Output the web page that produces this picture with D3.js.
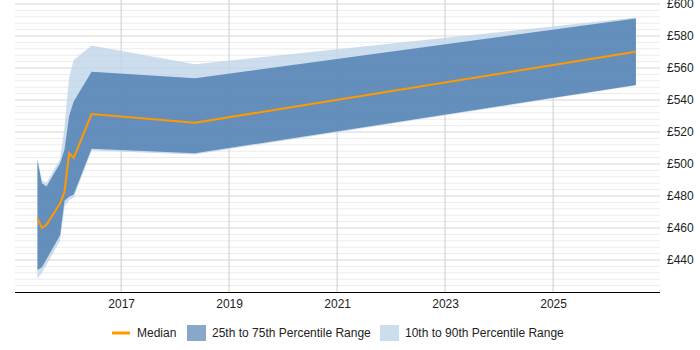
<!DOCTYPE html>
<html>
<head>
<meta charset="utf-8">
<script src="https://cdn.jsdelivr.net/npm/d3@7"></script>
<style>
  body { margin: 0; background: #fff; }
  svg { font-family: Arial, 'Liberation Sans', sans-serif; }
</style>
</head>
<body>
<svg width="700" height="350"></svg>
<script>
'use strict'

// monthly sample points (mid-month)
const months = ['2015-06', '2015-07', '2015-08', '2015-11', '2015-12', '2016-01', '2016-02', '2016-06', '2018-05', '2026-07']
const median = [466, 460, 462, 475.4, 482.7, 506.7, 503.8, 531.2, 525.8, 570.2]
const p25 = [433.7, 435.5, 440.5, 455.5, 477, 479.5, 481, 509.5, 506.7, 549.4]
const p75 = [502.5, 488, 486, 500.5, 509, 530, 539, 557.7, 553.6, 591]
const p10 = [428.5, 432, 437, 452, 473, 477.5, 479, 508.5, 506, 549]
const p90 = [503, 489.5, 488.5, 503, 523, 554, 565, 574, 562.3, 591.5]

const yearTicks = [2017, 2019, 2021, 2023, 2025]
const yTicks = [440, 460, 480, 500, 520, 540, 560, 580, 600]
const legendLabels = ['Median', '25th to 75th Percentile Range', '10th to 90th Percentile Range']

const svg = d3.select('svg')
const parseMonth = d3.timeParse('%Y-%m')
const midMonth = (m) => d3.timeDay.offset(parseMonth(m), 14)

const data = months.map((m, i) => ({
  date: midMonth(m),
  median: median[i],
  p25: p25[i],
  p75: p75[i],
  p10: p10[i],
  p90: p90[i]
}))

const plotLeft = 15
const plotRight = 660
const plotTop = 4
const plotBottom = 292

const x = d3.scaleTime()
  .domain([new Date(2015, 0, 14), new Date(2026, 11, 25)])
  .range([plotLeft, plotRight])
const y = d3.scaleLinear().domain([420, 600]).range([plotBottom, plotTop])

// grid
const grid = svg.append('g').classed('grid', true)
grid.selectAll('line.minor')
  .data(d3.range(424, 604, 4).filter((v) => v % 20 !== 0))
  .enter().append('line').classed('minor', true)
  .attr('x1', plotLeft).attr('x2', plotRight)
  .attr('y1', (d) => y(d)).attr('y2', (d) => y(d))
  .style('stroke', '#ebebeb')
grid.selectAll('line.major')
  .data(yTicks)
  .enter().append('line').classed('major', true)
  .attr('x1', plotLeft).attr('x2', plotRight)
  .attr('y1', (d) => y(d)).attr('y2', (d) => y(d))
  .style('stroke', '#d6d6d6')
grid.selectAll('line.vert')
  .data(yearTicks)
  .enter().append('line').classed('vert', true)
  .attr('x1', (d) => x(new Date(d, 0, 1))).attr('x2', (d) => x(new Date(d, 0, 1)))
  .attr('y1', 0).attr('y2', plotBottom)
  .style('stroke', '#cccccc')

// bands
const area = (lo, hi) => d3.area()
  .x((d) => x(d.date))
  .y0((d) => y(d[lo]))
  .y1((d) => y(d[hi]))

svg.append('path').datum(data)
  .attr('d', area('p10', 'p90'))
  .style('fill', '#bfd4ea')
  .style('fill-opacity', 0.8)

svg.append('path').datum(data)
  .attr('d', area('p25', 'p75'))
  .style('fill', '#4a7aae')
  .style('fill-opacity', 0.8)

svg.append('path').datum(data)
  .attr('d', d3.line().x((d) => x(d.date)).y((d) => y(d.median)))
  .style('fill', 'none')
  .style('stroke', '#ff9900')
  .style('stroke-width', 2)

// axes
const xAxis = d3.axisBottom(x)
  .tickValues(yearTicks.map((yr) => new Date(yr, 0, 1)))
  .tickFormat(d3.timeFormat('%Y'))
  .tickSize(0)
  .tickPadding(7)
const gx = svg.append('g').attr('transform', `translate(0, ${plotBottom})`).call(xAxis)
gx.select('path.domain').style('stroke', '#000').attr('d', `M${plotLeft},0.5H${plotRight}`)
gx.selectAll('text').style('font-size', '12px').style('fill', '#222').attr('font-family', null)
gx.attr('font-family', null)

const yAxis = d3.axisRight(y)
  .tickValues(yTicks)
  .tickFormat((d) => '£' + d)
  .tickSize(0)
  .tickPadding(7)
const gy = svg.append('g').attr('transform', `translate(${plotRight}, 0)`).call(yAxis)
gy.select('path.domain').remove()
gy.selectAll('text').style('font-size', '12px').style('fill', '#222')
gy.attr('font-family', null)

// legend
const legend = svg.append('g').attr('transform', 'translate(0, 333)')
legend.append('line')
  .attr('x1', 112).attr('x2', 130).attr('y1', 0).attr('y2', 0)
  .style('stroke', '#ff9900').style('stroke-width', 3)
legend.append('text').attr('x', 137).attr('y', 4).text(legendLabels[0])
legend.append('rect').attr('x', 187).attr('y', -8).attr('width', 19).attr('height', 16)
  .style('fill', '#88a7c9')
legend.append('text').attr('x', 212).attr('y', 4).text(legendLabels[1])
legend.append('rect').attr('x', 380).attr('y', -8).attr('width', 19).attr('height', 16)
  .style('fill', '#ccdded')
legend.append('text').attr('x', 405).attr('y', 4).text(legendLabels[2])
legend.selectAll('text').style('font-size', '12px').style('fill', '#222')
</script>
</body>
</html>
